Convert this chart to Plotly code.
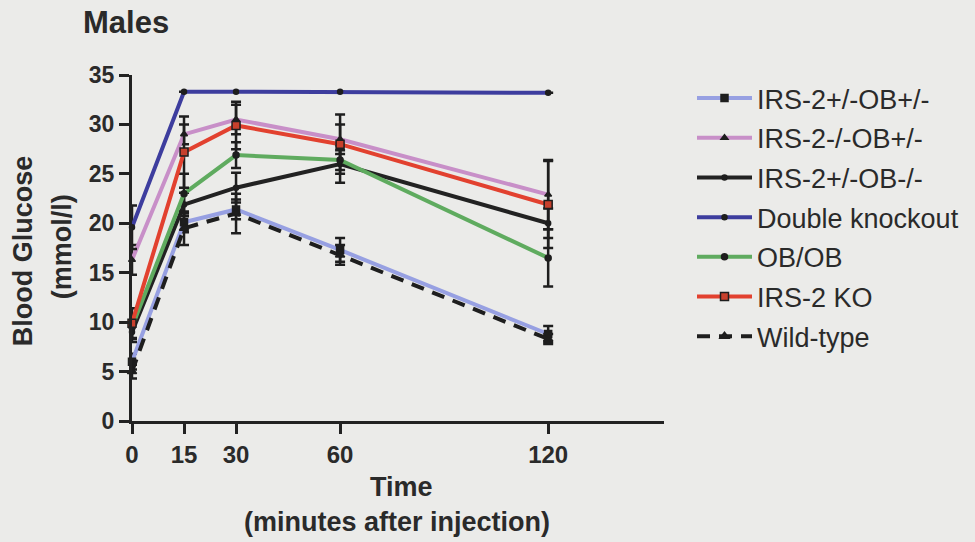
import plotly.graph_objects as go

time_points = [0, 15, 30, 60, 120]
x_tick_vals = [0, 15, 30, 60, 120]
y_tick_vals = [0, 5, 10, 15, 20, 25, 30, 35]

series_names = ["IRS-2+/-OB+/-", "IRS-2-/-OB+/-", "IRS-2+/-OB-/-", "Double knockout",
                "OB/OB", "IRS-2 KO", "Wild-type"]

irs2het_obhet = [6.0, 20.1, 21.4, 17.3, 8.8]
irs2het_obhet_err = [0.8, 1.0, 1.0, 1.2, 0.8]
irs2ko_obhet = [16.3, 29.0, 30.5, 28.5, 22.9]
irs2ko_obhet_err = [1.5, 1.0, 1.5, 1.5, 3.5]
irs2het_obko = [9.0, 21.9, 23.6, 26.0, 20.0]
irs2het_obko_err = [1.0, 1.2, 1.5, 1.9, 1.5]
double_ko = [19.6, 33.3, 33.3, 33.3, 33.2]
double_ko_err = [2.2, 0.0, 0.0, 0.0, 0.0]
ob_ob = [9.5, 23.0, 26.9, 26.4, 16.5]
ob_ob_err = [1.2, 2.0, 1.3, 1.0, 2.9]
irs2_ko = [9.9, 27.2, 29.9, 28.0, 21.9]
irs2_ko_err = [1.5, 3.6, 2.4, 3.0, 4.4]
wild_type = [5.0, 19.5, 21.0, 16.8, 8.3]
wild_type_err = [0.7, 1.7, 2.0, 1.0, 0.5]

values = [irs2het_obhet, irs2ko_obhet, irs2het_obko, double_ko, ob_ob, irs2_ko, wild_type]
errors = [irs2het_obhet_err, irs2ko_obhet_err, irs2het_obko_err, double_ko_err,
          ob_ob_err, irs2_ko_err, wild_type_err]

line_colors = ["#97a0e2", "#c88fc8", "#222222", "#3d3d9e", "#5fab5f", "#e2412f", "#1e1e1e"]
line_dash = ["solid", "solid", "solid", "solid", "solid", "solid", "13px,9px"]
marker_symbols = ["square", "triangle-up", "circle", "circle", "circle", "square", "triangle-up"]
marker_sizes = [7, 6, 5, 5, 6, 8, 8]
marker_fill = ["#1e1e1e", "#1e1e1e", "#1e1e1e", "#1e1e1e", "#1e1e1e", "#c8402c", "#1e1e1e"]

BG = "#ebebe9"
TXT = "#2a2a2a"
FONT = "Liberation Sans, Arial, sans-serif"

fig = go.Figure()
for i, name in enumerate(series_names):
    fig.add_trace(go.Scatter(
        x=time_points, y=values[i], name=name, mode="lines+markers",
        legendgroup=name,
        line=dict(color=line_colors[i], width=4, dash=line_dash[i]),
        marker=dict(symbol=marker_symbols[i], size=marker_sizes[i], color=marker_fill[i],
                    line=dict(color="#1e1e1e", width=1.5)),
        error_y=dict(type="data", array=errors[i], visible=True, color="#1e1e1e",
                     thickness=2.5, width=5),
        cliponaxis=False,
    ))

# plot area: x 132..665, y 75..421
L, R, T, B = 132, 665, 75, 421
W, H = R - L, B - T


def px(x):
    return (x - L) / W


def py(y):
    return (B - y) / H


ann = [
    dict(text="<b>Males</b>", x=px(126), y=py(22), font=dict(size=31)),
    dict(text="<b>Blood Glucose</b>", x=px(23), y=py(251), textangle=-90, font=dict(size=27)),
    dict(text="<b>(mmol/l)</b>", x=px(62), y=py(247), textangle=-90, font=dict(size=27)),
    dict(text="<b>Time</b>", x=px(402), y=py(487), font=dict(size=27)),
    dict(text="<b>(minutes after injection)</b>", x=px(397), y=py(522), font=dict(size=27)),
]
for a in ann:
    a.update(xref="paper", yref="paper", showarrow=False, xanchor="center", yanchor="middle")
    a["font"].update(family=FONT, color=TXT)

fig.update_layout(
    width=975, height=542,
    margin=dict(l=L, r=975 - R, t=T, b=542 - B),
    paper_bgcolor=BG, plot_bgcolor=BG,
    font=dict(family=FONT, color=TXT),
    annotations=ann,
    showlegend=True,
    legend=dict(x=px(692), y=py(74), xanchor="left", yanchor="top",
                font=dict(size=27, family=FONT, color=TXT), maxheight=500,
                itemwidth=55, tracegroupgap=1.6, bgcolor="rgba(0,0,0,0)"),
    xaxis=dict(range=[0, 153.4], tickvals=x_tick_vals, ticktext=[str(v) for v in x_tick_vals],
               showgrid=False, zeroline=False, showline=True, linecolor="#222222", linewidth=3,
               ticks="outside", ticklen=10, tickwidth=3, tickcolor="#222222",
               tickfont=dict(size=24, family=FONT, color=TXT, weight="bold")),
    yaxis=dict(range=[0, 35], tickvals=y_tick_vals, ticktext=[str(v) for v in y_tick_vals],
               showgrid=False, zeroline=False, showline=True, linecolor="#222222", linewidth=3,
               ticks="outside", ticklen=10, tickwidth=3, tickcolor="#222222",
               tickfont=dict(size=23, family=FONT, color=TXT, weight="bold")),
)

fig.write_html("out.html")
